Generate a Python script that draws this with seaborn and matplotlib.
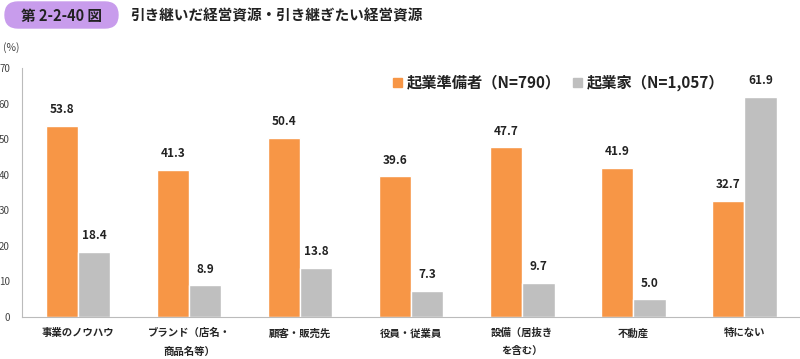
import pandas as pd
import matplotlib.pyplot as plt
import seaborn as sns
from matplotlib.patches import FancyBboxPatch
from matplotlib.transforms import IdentityTransform

categories = ["事業のノウハウ", "ブランド（店名・\n商品名等）", "顧客・販売先", "役員・従業員",
              "設備（居抜き\nを含む）", "不動産", "特にない"]
series = ["起業準備者（N=790）", "起業家（N=1,057）"]
prep = [53.8, 41.3, 50.4, 39.6, 47.7, 41.9, 32.7]
founders = [18.4, 8.9, 13.8, 7.3, 9.7, 5.0, 61.9]

sns.set_theme(style="white")
plt.rcParams["font.family"] = ["Noto Sans CJK JP", "DejaVu Sans"]

df = pd.DataFrame({
    "category": categories * 2,
    "series": [series[0]] * 7 + [series[1]] * 7,
    "value": prep + founders,
})

fig = plt.figure(figsize=(8, 3.59), dpi=100)
ax = fig.add_axes([0.028, 0.117, 0.972, 0.693])

sns.barplot(data=df, x="category", y="value", hue="series",
            palette=["#F79646", "#BFBFBF"], width=0.58, saturation=1,
            ax=ax, legend=False)

for cont in ax.containers:
    ax.bar_label(cont, fmt="%.1f", padding=7, fontsize=8.5, fontweight="bold", color="#222222")

ax.set_ylim(0, 70)
ax.set_xlim(-0.5, 6.5)
ax.set_yticks(range(0, 71, 10))
ax.tick_params(axis="y", labelsize=7, colors="#444444", length=0, pad=9)
ax.tick_params(axis="x", labelsize=7.5, length=0, pad=8)
for lab in ax.get_xticklabels():
    lab.set_fontweight("bold")
    lab.set_linespacing(2.0)
    lab.set_verticalalignment("top")
ax.set_xticks([i + 0.5 for i in range(6)], minor=True)
ax.tick_params(axis="x", which="minor", length=3, color="#BBBBBB", direction="out")
ax.set_xlabel("")
ax.set_ylabel("")
for s in ["top", "right"]:
    ax.spines[s].set_visible(False)
for s in ["left", "bottom"]:
    ax.spines[s].set_color("#BBBBBB")
    ax.spines[s].set_linewidth(0.8)

fig.text(0.004, 0.868, "(%)", fontsize=7.5, color="#444444", va="center")

# legend
fig.patches.append(FancyBboxPatch((0.491, 0.757), 0.012, 0.027, boxstyle="square,pad=0",
                                  transform=fig.transFigure, color="#F79646"))
fig.text(0.508, 0.770, series[0], fontsize=11, fontweight="bold", va="center", color="#222222")
fig.patches.append(FancyBboxPatch((0.716, 0.757), 0.012, 0.027, boxstyle="square,pad=0",
                                  transform=fig.transFigure, color="#BFBFBF"))
fig.text(0.734, 0.770, series[1], fontsize=11, fontweight="bold", va="center", color="#222222")

# header pill (pixel coordinates)
fig.patches.append(FancyBboxPatch((5, 359 - 28), 113, 26,
                                  boxstyle="round,pad=0,rounding_size=13",
                                  transform=IdentityTransform(), color="#C89CEC"))
fig.text(0.077, 0.956, "第 2-2-40 図", fontsize=10.5, fontweight="bold", ha="center", va="center", color="#222222")
fig.text(0.163, 0.956, "引き継いだ経営資源・引き継ぎたい経営資源", fontsize=10.5, fontweight="bold",
         va="center", color="#222222")

fig.savefig("out.png", dpi=100)
